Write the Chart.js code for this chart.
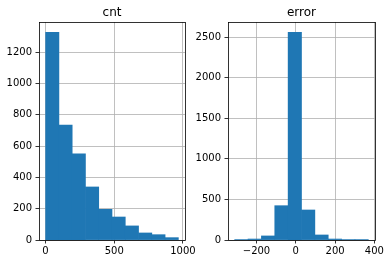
<!DOCTYPE html>
<html>
<head>
<meta charset="utf-8">
<script src="https://cdn.jsdelivr.net/npm/chart.js@4/dist/chart.umd.min.js"></script>
<style>
  html, body { margin: 0; padding: 0; background: #fff; }
  #wrap { position: relative; width: 389px; height: 264px; overflow: hidden; }
  canvas { position: absolute; top: 0; }
</style>
</head>
<body>
<div id="wrap">
  <canvas id="cntChart" width="195" height="264" style="left:0"></canvas>
  <canvas id="errorChart" width="194" height="264" style="left:195px"></canvas>
</div>
<script>
// ================= DATA =================
const cntEdges = [1, 97.6, 194.2, 290.8, 387.4, 484, 580.6, 677.2, 773.8, 870.4, 967];
const cntCounts = [1327, 735, 550, 339, 196, 147, 90, 45, 34, 15];
const cntXTicks = [0, 500, 1000];
const cntYTicks = [0, 200, 400, 600, 800, 1000, 1200];

const errorEdges = [-311, -243, -175, -107, -39, 29, 97, 165, 233, 301, 369];
const errorCounts = [1, 12, 50, 423, 2560, 370, 62, 12, 2, 1];
const errorXTicks = [-200, 0, 200, 400];
const errorYTicks = [0, 500, 1000, 1500, 2000, 2500];

// ================= HELPERS =================
const FONT = "'DejaVu Sans', sans-serif";
const BLUE = "#1f77b4";

function binPoints(edges, counts) {
  return counts.map((c, i) => ({ x: (edges[i] + edges[i + 1]) / 2, y: c }));
}

function fmt(v) {
  return v < 0 ? "\u2212" + Math.abs(v) : String(v);
}

// frame + title, drawn after everything
const framePlugin = {
  id: "frame",
  afterDraw(chart, args, opts) {
    const { ctx, chartArea: a } = chart;
    ctx.save();
    ctx.strokeStyle = "#000";
    ctx.lineWidth = 0.8;
    ctx.strokeRect(Math.round(a.left) + 0.5, Math.round(a.top) + 0.5,
      Math.round(a.right - a.left), Math.round(a.bottom - a.top));
    ctx.fillStyle = "#000";
    ctx.font = "12px " + FONT;
    ctx.textAlign = "center";
    ctx.textBaseline = "middle";
    ctx.fillText(opts.text, (a.left + a.right) / 2, 13);
    ctx.restore();
  }
};

// ================= BUILD ONE HISTOGRAM =================
function makeHist(id, title, edges, counts, xTicks, yTicks, yAxisW, padRight) {
  const span = edges[edges.length - 1] - edges[0];
  const xMin = edges[0] - span * 0.05;
  const xMax = edges[edges.length - 1] + span * 0.05;
  const yMax = Math.max(...counts) * 1.05;

  const tickFont = { family: FONT, size: 10 };
  const grid = {
    color: "#b0b0b0",
    lineWidth: 0.8,
    tickColor: "#000",
    tickLength: 3.5,
    tickWidth: 0.8,
    offset: false
  };

  new Chart(document.getElementById(id), {
    type: "bar",
    data: {
      datasets: [{
        data: binPoints(edges, counts),
        backgroundColor: BLUE,
        borderWidth: 0,
        barPercentage: 1,
        categoryPercentage: 1
      }]
    },
    options: {
      responsive: false,
      animation: false,
      layout: { padding: { top: 22, right: padRight, left: 0, bottom: 0 } },
      plugins: {
        legend: { display: false },
        tooltip: { enabled: false },
        frame: { text: title }
      },
      scales: {
        x: {
          type: "linear",
          min: xMin,
          max: xMax,
          offset: false,
          z: 1,
          border: { display: false },
          grid: grid,
          ticks: {
            font: tickFont,
            color: "#000",
            padding: 2,
            maxRotation: 0,
            autoSkip: false,
            callback: v => fmt(v)
          },
          afterBuildTicks: s => { s.ticks = xTicks.map(v => ({ value: v })); },
          afterFit: s => {
            s.height = 24;
            s.paddingLeft = 0; s.paddingRight = 0;
          }
        },
        y: {
          type: "linear",
          min: 0,
          max: yMax,
          z: 1,
          border: { display: false },
          grid: grid,
          ticks: {
            font: tickFont,
            color: "#000",
            padding: 3.5,
            autoSkip: false,
            callback: v => fmt(v)
          },
          afterBuildTicks: s => { s.ticks = yTicks.map(v => ({ value: v })); },
          afterFit: s => {
            s.width = yAxisW;
            s.paddingTop = 0; s.paddingBottom = 0;
          }
        }
      }
    },
    plugins: [framePlugin]
  });
}

// ================= INIT =================
makeHist("cntChart", "cnt", cntEdges, cntCounts, cntXTicks, cntYTicks, 39, 10);
makeHist("errorChart", "error", errorEdges, errorCounts, errorXTicks, errorYTicks, 33, 14);
</script>
</body>
</html>
